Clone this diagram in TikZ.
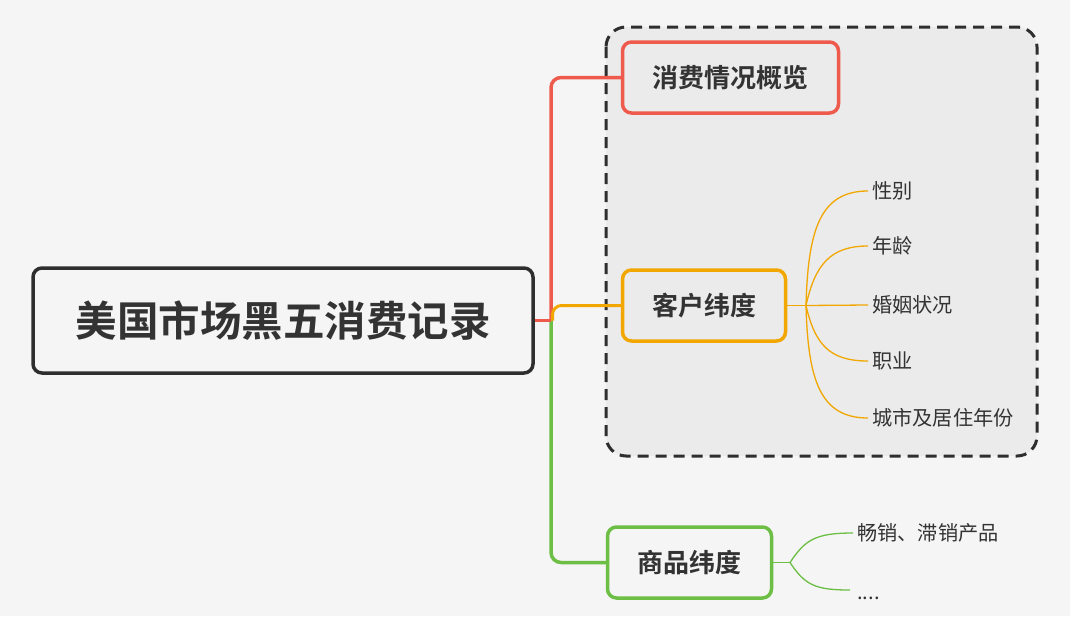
\documentclass[tikz,border=0pt]{standalone}
\usepackage{fontspec}
\newfontfamily\cjk{Noto Sans CJK SC}
\newfontfamily\cjkb{Noto Sans CJK SC Bold}
\usetikzlibrary{calc}
\definecolor{bg}{HTML}{F5F5F5}
\definecolor{zone}{HTML}{EBEBEB}
\definecolor{dark}{HTML}{2E2E2E}
\definecolor{txt}{HTML}{333333}
\definecolor{cred}{HTML}{EE5A4B}
\definecolor{corange}{HTML}{F2A700}
\definecolor{cgreen}{HTML}{6CBE45}
\tikzset{
  mainbox/.style={draw, line width=3.5pt, rounded corners=9pt, fill=bg, inner sep=0pt, text=txt},
  topic/.style={draw, line width=3.5pt, rounded corners=9pt, inner sep=0pt, text=txt, font=\cjkb\fontsize{26}{29}\selectfont},
  leaf/.style={anchor=west, inner sep=4pt, text=txt, font=\cjk\fontsize{20.2}{23}\selectfont},
  branch/.style={line width=3.5pt, rounded corners=10pt},
  twig/.style={line width=1.3pt},
}
\begin{document}
\begin{tikzpicture}[x=1pt,y=-1pt]
\fill[bg] (0,0) rectangle (1070,616);
\useasboundingbox (0,0) rectangle (1070,616);
% dashed zone
\draw[dark, line width=3pt, dash pattern=on 11pt off 7pt, fill=zone, rounded corners=20pt] (606,27) rectangle (1037,456);

% root
\node[mainbox, draw=dark, minimum width=500pt, minimum height=105pt, font=\cjkb\fontsize{41.5}{45}\selectfont] (root) at (283,320.5) {美国市场黑五消费记录};

% topics
\node[topic, draw=cred, fill=zone, minimum width=216pt, minimum height=71pt] (n1) at (730.5,77.5) {消费情况概览};
\node[topic, draw=corange, fill=zone, minimum width=163pt, minimum height=71pt] (n2) at (704,305.5) {客户纬度};
\node[topic, draw=cgreen, fill=bg, minimum width=164pt, minimum height=71pt] (n3) at (689.5,562.5) {商品纬度};

% leaves
\node[leaf] (a1) at (868,191) {性别};
\node[leaf] (a2) at (868,246) {年龄};
\node[leaf] (a3) at (868,305) {婚姻状况};
\node[leaf] (a4) at (868,361) {职业};
\node[leaf] (a5) at (868,418) {城市及居住年份};
\node[leaf, anchor=west] (b1) at (853,533) {畅销、滞销产品};
\node[leaf, anchor=south west, inner sep=4pt, yshift=-4pt] (b2) at (853,600) {....};

% main branches
\coordinate (hub) at (551,320.5);
\draw[branch, cgreen] (hub) |- (n3.west);
\draw[branch, cred] (hub) |- (n1.west);
\draw[line width=3.5pt, cred] (root.east) -- (hub);
\draw[line width=3pt, corange, rounded corners=9pt] ($(hub)+(1.5,0)$) |- (n2.west);

% customer twigs
\coordinate (kh) at (806,305.5);
\draw[twig, corange] (n2.east) -- (kh);
\draw[twig, corange] (kh) .. controls (808,230) and (820,191) .. (a1.west);
\draw[twig, corange] (kh) .. controls (815,265) and (830,246) .. (a2.west);
\draw[twig, corange] (kh) -- (a3.west);
\draw[twig, corange] (kh) .. controls (815,345) and (830,361) .. (a4.west);
\draw[twig, corange] (kh) .. controls (808,380) and (820,418) .. (a5.west);

% product twigs
\coordinate (ph) at (790,562.5);
\draw[twig, cgreen] (n3.east) -- (ph);
\draw[twig, cgreen] (ph) .. controls (805,540) and (815,533) .. (b1.west);
\coordinate (b2e) at (850,590);
\draw[twig, cgreen] (ph) .. controls (805,585) and (815,590) .. (b2e);
\end{tikzpicture}
\end{document}
